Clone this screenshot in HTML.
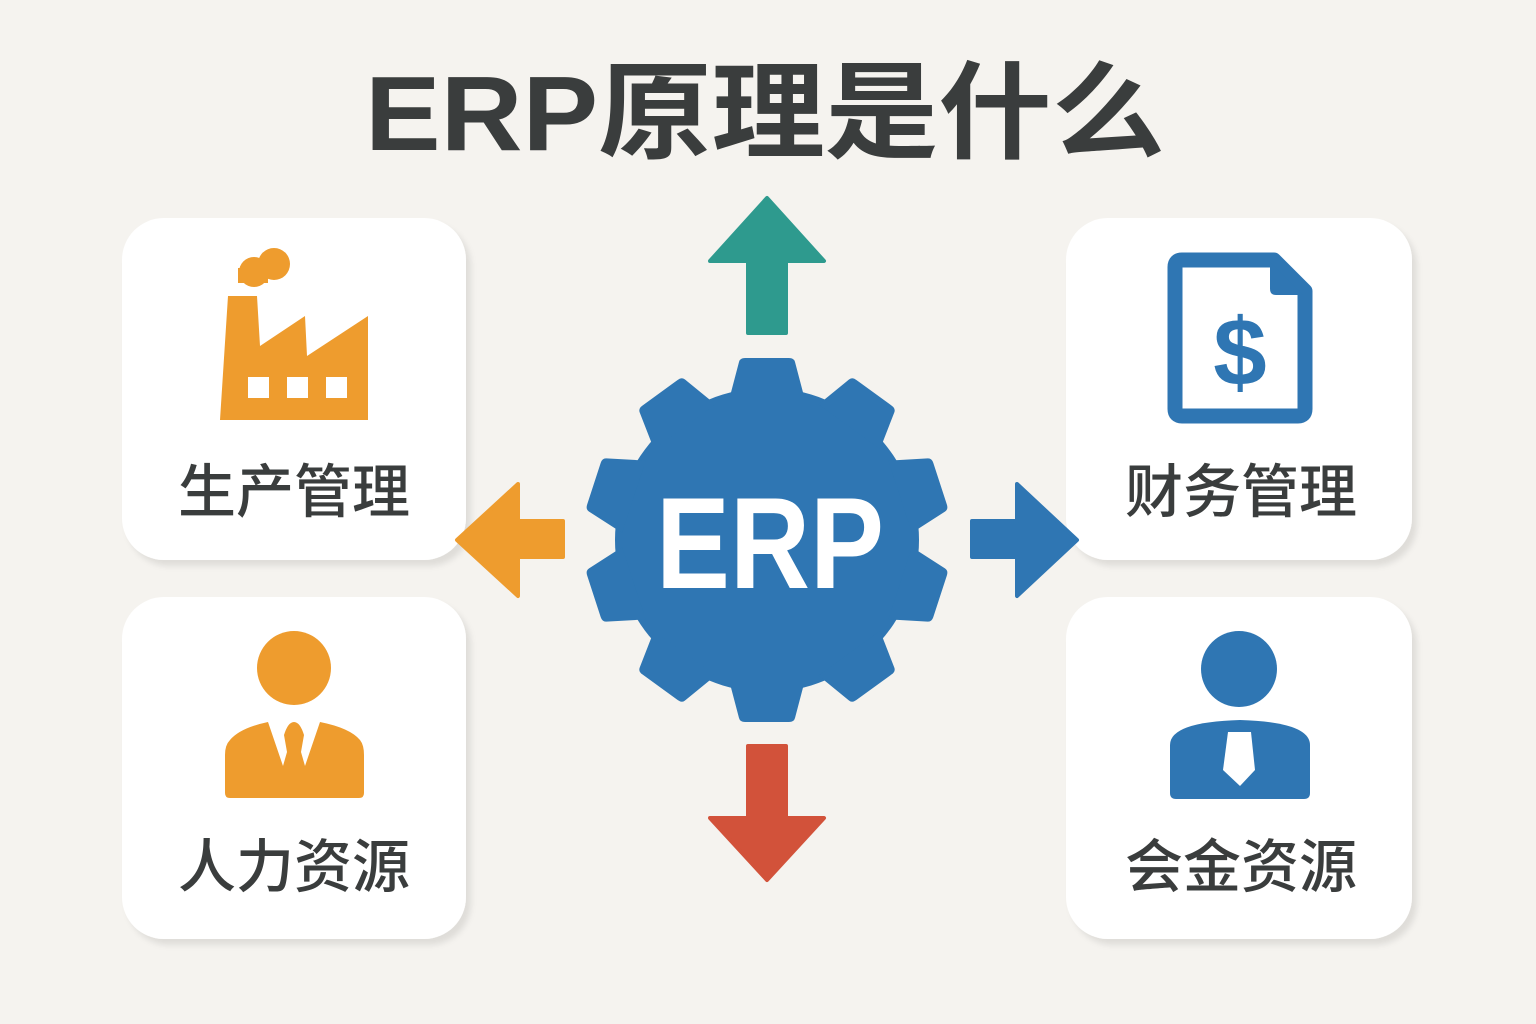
<!DOCTYPE html>
<html><head><meta charset="utf-8"><style>
html,body{margin:0;padding:0;background:#f5f3ef;}
svg{display:block}
</style></head><body>
<svg width="1536" height="1024" viewBox="0 0 1536 1024" xmlns="http://www.w3.org/2000/svg">
<defs>
<filter id="sh" x="-10%" y="-10%" width="130%" height="130%"><feDropShadow dx="5" dy="6" stdDeviation="3" flood-color="#000" flood-opacity="0.09"/></filter>
<g id="tooth"><path d="M-38,-140 L-28,-178 Q-27,-182 -22,-182 L22,-182 Q27,-182 28,-178 L38,-140 Z"/></g>
</defs>
<rect width="1536" height="1024" fill="#f5f3ef"/>
<text x="765" y="150" text-anchor="middle" font-family="'Liberation Sans','Noto Sans CJK SC',sans-serif" font-weight="bold" font-size="106" fill="#3a3d3d" textLength="800" lengthAdjust="spacingAndGlyphs">ERP原理是什么</text>

<g filter="url(#sh)" fill="#fff">
<rect x="122" y="218" width="344" height="342" rx="42"/>
<rect x="1066" y="218" width="346" height="342" rx="42"/>
<rect x="122" y="597" width="344" height="342" rx="42"/>
<rect x="1066" y="597" width="346" height="342" rx="42"/>
</g>

<!-- factory -->
<g fill="#ee9c2e">
<circle cx="254" cy="272" r="15"/><circle cx="274" cy="264" r="16"/><rect x="238" y="268" width="30" height="15"/>
<path d="M228,296 L257,296 L260,346 L305,316 L307,356 L368,316 L368,420 L220,420 Z"/>
</g>
<g fill="#fff"><rect x="248" y="377" width="21" height="21"/><rect x="287" y="377" width="21" height="21"/><rect x="326" y="377" width="21" height="21"/></g>

<!-- document -->
<path d="M1182,260 L1274,260 L1305,291 L1305,409 Q1305,416 1298,416 L1182,416 Q1175,416 1175,409 L1175,267 Q1175,260 1182,260 Z" fill="none" stroke="#2f76b3" stroke-width="15" stroke-linejoin="round"/>
<path d="M1270,262 L1303,295 L1276,295 Q1270,295 1270,289 Z" fill="#2f76b3"/>
<text x="1240" y="385" text-anchor="middle" font-family="'Liberation Sans',sans-serif" font-weight="bold" font-size="96" fill="#2f76b3">$</text>

<!-- orange person -->
<g fill="#ee9c2e">
<circle cx="294" cy="668" r="37"/>
<path d="M268,722 L283,766 L287,752 L284,735 Q288,722 294,722 Q300,722 304,735 L301,752 L305,766 L320,722 Q350,728 360,740 Q364,745 364,755 L364,793 Q364,798 359,798 L230,798 Q225,798 225,793 L225,755 Q225,745 230,740 Q240,728 268,722 Z"/>
</g>

<!-- blue person -->
<circle cx="1239" cy="669" r="38" fill="#2f76b3"/>
<path d="M1170,745 Q1170,722 1240,720 Q1310,722 1310,745 L1310,793 Q1310,799 1304,799 L1176,799 Q1170,799 1170,793 Z" fill="#2f76b3"/>
<path d="M1228,732 L1251,732 L1255,770 L1240,786 L1223,770 Z" fill="#fff"/>

<g font-family="'Liberation Sans','Noto Sans CJK SC',sans-serif" font-size="58" font-weight="500" fill="#3a3d3d" text-anchor="middle">
<text x="294" y="512">生产管理</text>
<text x="1241" y="512">财务管理</text>
<text x="294" y="887">人力资源</text>
<text x="1241" y="887">会金资源</text>
</g>

<!-- arrows -->
<path d="M748,333 L748,261 L710,261 L767,198 L824,261 L786,261 L786,333 Z" fill="#2e9a8e" stroke="#2e9a8e" stroke-width="4" stroke-linejoin="round"/>
<path d="M748,746 L748,818 L710,818 L767,880 L824,818 L786,818 L786,746 Z" fill="#d2523a" stroke="#d2523a" stroke-width="4" stroke-linejoin="round"/>
<path d="M563,521 L518,521 L518,484 L457,540 L518,596 L518,557 L563,557 Z" fill="#ee9c2e" stroke="#ee9c2e" stroke-width="4" stroke-linejoin="round"/>
<path d="M972,521 L1017,521 L1017,484 L1077,540 L1017,596 L1017,557 L972,557 Z" fill="#2f76b3" stroke="#2f76b3" stroke-width="4" stroke-linejoin="round"/>

<!-- gear -->
<g transform="translate(767,540)" fill="#2f76b3">
<circle r="152"/>
<use href="#tooth" transform="rotate(0)"/>
<use href="#tooth" transform="rotate(36)"/>
<use href="#tooth" transform="rotate(72)"/>
<use href="#tooth" transform="rotate(108)"/>
<use href="#tooth" transform="rotate(144)"/>
<use href="#tooth" transform="rotate(180)"/>
<use href="#tooth" transform="rotate(216)"/>
<use href="#tooth" transform="rotate(252)"/>
<use href="#tooth" transform="rotate(288)"/>
<use href="#tooth" transform="rotate(324)"/>
</g>
<text x="770" y="588" text-anchor="middle" font-family="'Liberation Sans',sans-serif" font-weight="bold" font-size="130" fill="#fff" textLength="228" lengthAdjust="spacingAndGlyphs">ERP</text>
</svg>
</body></html>
